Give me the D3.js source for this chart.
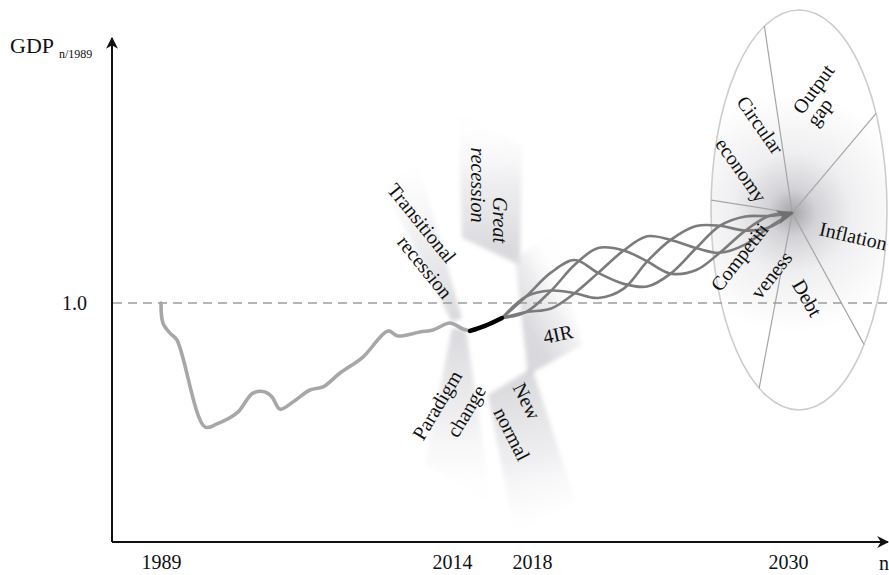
<!DOCTYPE html>
<html>
<head>
<meta charset="utf-8">
<script src="https://cdn.jsdelivr.net/npm/d3@7"></script>
<style>
  body { margin: 0; background: #fff; }
  svg { display: block; font-family: "Liberation Serif", "Times New Roman", serif; }
</style>
</head>
<body>
<script>
// ---- data ----
var tickYears = [1989, 2014, 2018, 2030];
var refLevel = 1.0;

// historical GDP (index, 1989 = 1)
var histYears  = [1989, 1989.17, 1989.77, 1990.37, 1992.78, 1993.81, 1995.53, 1996.9, 1997.93, 1998.54, 1999.22, 2000.34, 2001.8, 2002.92, 2004.38, 2006.35, 2008.5, 2009.36, 2011.25, 2012.37, 2013.83, 2014.55, 2014.9];
var histValues = [1.0, 0.916, 0.874, 0.845, 0.481, 0.494, 0.540, 0.623, 0.628, 0.607, 0.556, 0.586, 0.636, 0.649, 0.707, 0.774, 0.883, 0.862, 0.879, 0.887, 0.916, 0.891, 0.883];

// short black stretch 2014-2016
var bridgeYears  = [2014.9, 2015.65, 2016.5];
var bridgeValues = [0.883, 0.904, 0.937];

// four intertwined scenario paths to 2030
var pathYears = [2016.5, 2017.7, 2018.9, 2020.0, 2021.1, 2022.3, 2023.4, 2024.5, 2025.7, 2026.8, 2028.0, 2029.1, 2030.2];
var pathA = [0.937, 1.027, 1.128, 1.180, 1.126, 1.080, 1.069, 1.123, 1.230, 1.323, 1.362, 1.364, 1.377];
var pathB = [0.937, 1.027, 1.052, 1.041, 1.021, 1.060, 1.174, 1.264, 1.322, 1.323, 1.303, 1.316, 1.377];
var pathC = [0.937, 0.962, 0.977, 1.041, 1.126, 1.220, 1.279, 1.264, 1.230, 1.210, 1.245, 1.316, 1.377];
var pathD = [0.937, 0.962, 1.052, 1.160, 1.230, 1.220, 1.174, 1.123, 1.138, 1.210, 1.303, 1.364, 1.377];

var petalLabels  = [["Transitional", "recession"], ["Great", "recession"], ["4IR"], ["Paradigm", "change"], ["New", "normal"]];
var sectorLabels = [["Circular", "economy"], ["Output", "gap"], ["Inflation"], ["Debt"], ["Competiti", "veness"]];

// ---- layout ----
var width = 889, height = 575;
var x0 = 112, yBase = 542;

var svg = d3.select("body").append("svg")
    .attr("width", width)
    .attr("height", height);

var x = d3.scaleLinear()
    .domain(tickYears)
    .range([161, 452, 532, 788]);
var y = d3.scaleLinear()
    .domain([0, 2])
    .range([yBase, 64]);

var defs = svg.append("defs");
var soft = defs.append("filter").attr("id", "soft")
    .attr("x", "-20%").attr("y", "-20%").attr("width", "140%").attr("height", "140%");
soft.append("feGaussianBlur").attr("stdDeviation", 2);

// petals round the 2014 turning point (offsets in px from anchor)
var A = [x(2014), y(refLevel)];
var petals = [
  { poly: [[0,19],[10,15],[-34,-140],[-69,-118]], rot: 51,  lines: [[-30,-80],[-27,-36]], italic: false },
  { poly: [[10,-65],[68,-38],[70,-158],[6,-191]], rot: 90,  lines: [[48,-83],[26,-118]], italic: true },
  { poly: [[63,-45],[76,72],[130,42],[103,-71]],  rot: -12, lines: [[106,31]], italic: false },
  { poly: [[0,25],[14,27],[40,202],[-27,162]],    rot: -59, lines: [[-15,102],[14,108]], italic: false },
  { poly: [[36,92],[80,65],[123,197],[63,232]],   rot: 63,  lines: [[75,98],[60,131]], italic: false }
];

petals.forEach(function(p, i) {
  var pts = p.poly.map(function(d) { return [A[0] + d[0], A[1] + d[1]]; });
  var g = defs.append("linearGradient").attr("id", "pg" + i)
      .attr("gradientUnits", "userSpaceOnUse")
      .attr("x1", (pts[0][0] + pts[1][0]) / 2).attr("y1", (pts[0][1] + pts[1][1]) / 2)
      .attr("x2", (pts[2][0] + pts[3][0]) / 2).attr("y2", (pts[2][1] + pts[3][1]) / 2);
  g.append("stop").attr("offset", 0).attr("stop-color", "#cdcdd2").attr("stop-opacity", 0.75);
  g.append("stop").attr("offset", 0.55).attr("stop-color", "#e3e3e7").attr("stop-opacity", 0.6);
  g.append("stop").attr("offset", 1).attr("stop-color", "#f4f4f6").attr("stop-opacity", 0.1);
  svg.append("polygon")
      .attr("points", pts.map(function(d) { return d.join(","); }).join(" "))
      .attr("fill", "url(#pg" + i + ")")
      .attr("filter", "url(#soft)");
});

// ellipse of 2030 factors
var H = [x(pathYears[pathYears.length - 1]), y(pathA[pathA.length - 1])];
var ell = { cx: 799, cy: 210, rx: 88, ry: 200 };
var rg = defs.append("radialGradient").attr("id", "hubGrad")
    .attr("gradientUnits", "userSpaceOnUse")
    .attr("cx", H[0]).attr("cy", H[1]).attr("r", 120);
rg.append("stop").attr("offset", 0).attr("stop-color", "#a4a4a9");
rg.append("stop").attr("offset", 0.2).attr("stop-color", "#d3d3d7");
rg.append("stop").attr("offset", 0.5).attr("stop-color", "#efeff1");
rg.append("stop").attr("offset", 1).attr("stop-color", "#ffffff");

svg.append("ellipse")
    .attr("cx", ell.cx).attr("cy", ell.cy)
    .attr("rx", ell.rx).attr("ry", ell.ry)
    .attr("fill", "url(#hubGrad)")
    .attr("stroke", "#cdcdcd")
    .attr("stroke-width", 1.6);

// spokes from the hub to the ellipse rim
var spokeAngles = [-98.5, -49.9, 61.4, 100.7, -171];
spokeAngles.forEach(function(a) {
  var r = a * Math.PI / 180, c = Math.cos(r), s = Math.sin(r);
  var px = (H[0] - ell.cx) / ell.rx, py = (H[1] - ell.cy) / ell.ry;
  var qa = (c / ell.rx) * (c / ell.rx) + (s / ell.ry) * (s / ell.ry);
  var qb = 2 * (px * c / ell.rx + py * s / ell.ry);
  var qc = px * px + py * py - 1;
  var t = (-qb + Math.sqrt(qb * qb - 4 * qa * qc)) / (2 * qa);
  svg.append("line")
      .attr("x1", H[0]).attr("y1", H[1])
      .attr("x2", H[0] + t * c).attr("y2", H[1] + t * s)
      .attr("stroke", "#a6a6a6")
      .attr("stroke-width", 1.2);
});

// dashed reference line at 1.0
svg.append("line")
    .attr("x1", x0 + 1).attr("x2", width)
    .attr("y1", y(refLevel)).attr("y2", y(refLevel))
    .attr("stroke", "#9d9d9d")
    .attr("stroke-width", 1.5)
    .attr("stroke-dasharray", "9,6");

// lines
var line = d3.line()
    .x(function(d) { return x(d[0]); })
    .y(function(d) { return y(d[1]); })
    .curve(d3.curveCatmullRom.alpha(0.5));

svg.append("path")
    .attr("d", line(d3.zip(histYears, histValues)))
    .attr("fill", "none")
    .attr("stroke", "#a7a7a7")
    .attr("stroke-width", 3.6)
    .attr("stroke-linejoin", "round")
    .attr("stroke-linecap", "round");

[pathA, pathB, pathC, pathD].forEach(function(vals) {
  svg.append("path")
      .attr("d", line(d3.zip(pathYears, vals)))
      .attr("fill", "none")
      .attr("stroke", "#7b7b7b")
      .attr("stroke-width", 2.6);
});

svg.append("path")
    .attr("d", line(d3.zip(bridgeYears, bridgeValues)))
    .attr("fill", "none")
    .attr("stroke", "#000")
    .attr("stroke-width", 4.5)
    .attr("stroke-linecap", "round");

// arrow head at 2030
svg.append("path")
    .attr("d", "M2,0 L-15,-7 L-11,0 L-15,7 Z")
    .attr("transform", "translate(" + H[0] + "," + H[1] + ") rotate(-17)")
    .attr("fill", "#6f6f6f");

// petal labels
petals.forEach(function(p, i) {
  petalLabels[i].forEach(function(txt, j) {
    var o = p.lines[j];
    svg.append("text")
        .attr("transform", "translate(" + (A[0] + o[0]) + "," + (A[1] + o[1]) + ") rotate(" + p.rot + ")")
        .attr("text-anchor", "middle")
        .attr("dy", "0.35em")
        .style("font-size", "20px")
        .style("font-style", p.italic ? "italic" : "normal")
        .attr("fill", "#111")
        .text(txt);
  });
});

// sector labels (offsets from hub)
var sectors = [
  { rot: 55,  lines: [[-32,-88],[-51,-43]] },
  { rot: -54, lines: [[21,-124],[27,-101]] },
  { rot: 13,  lines: [[61,23]] },
  { rot: 60,  lines: [[15,85]] },
  { rot: -52, lines: [[-53,44],[-21,62]] }
];
sectors.forEach(function(s, i) {
  sectorLabels[i].forEach(function(txt, j) {
    var o = s.lines[j];
    svg.append("text")
        .attr("transform", "translate(" + (H[0] + o[0]) + "," + (H[1] + o[1]) + ") rotate(" + s.rot + ")")
        .attr("text-anchor", "middle")
        .attr("dy", "0.35em")
        .style("font-size", "20px")
        .attr("fill", "#111")
        .text(txt);
  });
});

// axes
defs.append("marker").attr("id", "arrow")
    .attr("viewBox", "0 0 10 10").attr("refX", 9).attr("refY", 5)
    .attr("markerWidth", 6).attr("markerHeight", 6)
    .attr("markerUnits", "strokeWidth")
    .attr("orient", "auto")
  .append("path").attr("d", "M0,0 L10,5 L0,10 L3,5 Z").attr("fill", "#111");

svg.append("path")
    .attr("d", "M" + x0 + "," + yBase + " L" + x0 + ",38")
    .attr("stroke", "#111").attr("stroke-width", 2).attr("fill", "none")
    .attr("marker-end", "url(#arrow)");
svg.append("path")
    .attr("d", "M" + x0 + "," + yBase + " L" + (width - 1) + "," + yBase)
    .attr("stroke", "#111").attr("stroke-width", 2).attr("fill", "none")
    .attr("marker-end", "url(#arrow)");

var xAxis = svg.append("g")
    .attr("transform", "translate(0," + yBase + ")")
    .call(d3.axisBottom(x).tickValues(tickYears).tickFormat(d3.format("d")).tickSize(0).tickPadding(13));
xAxis.select(".domain").remove();
xAxis.selectAll("text").style("font-size", "20px").style("font-family", "Liberation Serif, serif").attr("fill", "#111");

var yAxis = svg.append("g")
    .attr("transform", "translate(" + x0 + ",0)")
    .call(d3.axisLeft(y).tickValues([refLevel]).tickFormat(d3.format(".1f")).tickSize(0).tickPadding(25));
yAxis.select(".domain").remove();
yAxis.selectAll("text").style("font-size", "20px").style("font-family", "Liberation Serif, serif").attr("fill", "#111");

// axis titles
var yt = svg.append("text").attr("x", 10).attr("y", 53).attr("fill", "#111");
yt.append("tspan").style("font-size", "22px").text("GDP");
yt.append("tspan").attr("dx", 5).attr("dy", 5).style("font-size", "12px").text("n/1989");

svg.append("text").attr("x", 879).attr("y", 570)
    .style("font-size", "20px").attr("fill", "#111").text("n");
</script>
</body>
</html>
